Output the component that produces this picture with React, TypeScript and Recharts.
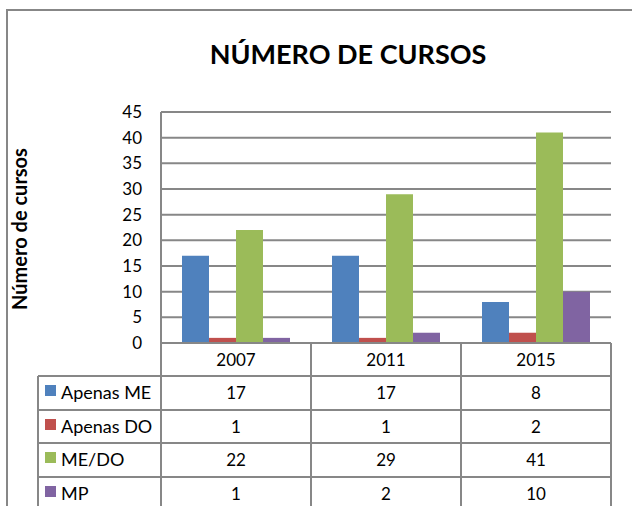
import { Bar, BarChart, CartesianGrid, XAxis, YAxis } from 'recharts';

const years = ['2007', '2011', '2015'];
const apenasME = [17, 17, 8];
const apenasDO = [1, 1, 2];
const meDO = [22, 29, 41];
const mp = [1, 2, 10];
const yTicks = [0, 5, 10, 15, 20, 25, 30, 35, 40, 45];

const series = [
  { key: 'apenasME', name: 'Apenas ME', values: apenasME, color: '#4F81BD' },
  { key: 'apenasDO', name: 'Apenas DO', values: apenasDO, color: '#C0504D' },
  { key: 'meDO', name: 'ME/DO', values: meDO, color: '#9BBB59' },
  { key: 'mp', name: 'MP', values: mp, color: '#8064A2' },
];

const data = years.map((year, i) => {
  const row: Record<string, string | number> = { year };
  series.forEach((s) => {
    row[s.key] = s.values[i];
  });
  return row;
});

const W = 632;
const H = 506;
const PLOT_LEFT = 161;
const PLOT_RIGHT = 611;
const PLOT_TOP = 112;
const PLOT_BOTTOM = 343;
const TABLE_LEFT = 38;
const ROW_LINES = [376, 410, 443, 477];
const ROW_H = 34;
const LINE = '#878787';
const FONT = 'Lato, "Noto Sans", sans-serif';

function TableTick(props: any) {
  const { x, y, payload } = props;
  const i = payload.index;
  const half = (PLOT_RIGHT - PLOT_LEFT) / years.length / 2;
  return (
    <g>
      {i === 0 && <line x1={x - half} x2={x - half} y1={y} y2={H} stroke={LINE} strokeWidth={2} />}
      <line x1={x + half} x2={x + half} y1={y} y2={H} stroke={LINE} strokeWidth={2} />
      <text x={x} y={y + 23} textAnchor="middle" fontSize={17} fill="#000" fontFamily={FONT}>
        {payload.value}
      </text>
      {series.map((s, r) => (
        <text
          key={s.key}
          x={x}
          y={ROW_LINES[r] + ROW_H / 2 + 6}
          textAnchor="middle"
          fontSize={17}
          fill="#000"
          fontFamily={FONT}
        >
          {s.values[i]}
        </text>
      ))}
    </g>
  );
}

export default function App() {
  return (
    <div style={{ position: 'absolute', left: 0, top: 0, width: W, height: H, overflow: 'hidden', background: '#fff' }}>
      <div
        style={{
          position: 'absolute',
          left: 6,
          top: 9,
          width: 700,
          height: 600,
          border: `2px solid ${LINE}`,
          boxSizing: 'border-box',
        }}
      />
      <div style={{ position: 'absolute', left: 0, top: 0 }}>
        <BarChart
          width={W}
          height={H}
          data={data}
          margin={{ top: PLOT_TOP, right: W - PLOT_RIGHT, bottom: 0, left: 0 }}
          barCategoryGap="14%"
          barGap={0}
        >
          <CartesianGrid vertical={false} stroke={LINE} strokeWidth={2} />
          <YAxis
            width={PLOT_LEFT}
            domain={[0, 45]}
            ticks={yTicks}
            interval={0}
            tickLine={false}
            tickSize={0}
            tickMargin={19}
            axisLine={{ stroke: LINE, strokeWidth: 2 }}
            tick={{ fontSize: 17, fill: '#000', fontFamily: FONT }}
          />
          <XAxis
            dataKey="year"
            height={H - PLOT_BOTTOM}
            interval={0}
            tickLine={false}
            tickSize={0}
            tickMargin={0}
            axisLine={{ stroke: LINE, strokeWidth: 2 }}
            tick={<TableTick />}
          />
          {series.map((s) => (
            <Bar key={s.key} dataKey={s.key} name={s.name} fill={s.color} isAnimationActive={false} />
          ))}
        </BarChart>
      </div>
      <svg
        width={W}
        height={H}
        style={{ position: 'absolute', left: 0, top: 0, pointerEvents: 'none' }}
      >
        <text x={348} y={64} textAnchor="middle" fontSize={27} fontWeight="bold" fontFamily={FONT} fill="#000">
          NÚMERO DE CURSOS
        </text>
        <text
          x={27}
          y={229}
          transform="rotate(-90 27 229)"
          textAnchor="middle"
          fontSize={20}
          fontWeight="bold"
          fontFamily={FONT}
          fill="#000"
        >
          Número de cursos
        </text>
        <line x1={TABLE_LEFT} x2={TABLE_LEFT} y1={ROW_LINES[0]} y2={H} stroke={LINE} strokeWidth={2} />
        {ROW_LINES.map((y) => (
          <line key={y} x1={TABLE_LEFT} x2={PLOT_RIGHT} y1={y} y2={y} stroke={LINE} strokeWidth={2} />
        ))}
        {series.map((s, r) => (
          <g key={s.key}>
            <rect x={45} y={ROW_LINES[r] + ROW_H / 2 - 8} width={11} height={11} fill={s.color} />
            <text x={61} y={ROW_LINES[r] + ROW_H / 2 + 6} fontSize={18} fontFamily={FONT} fill="#000">
              {s.name}
            </text>
          </g>
        ))}
      </svg>
    </div>
  );
}
